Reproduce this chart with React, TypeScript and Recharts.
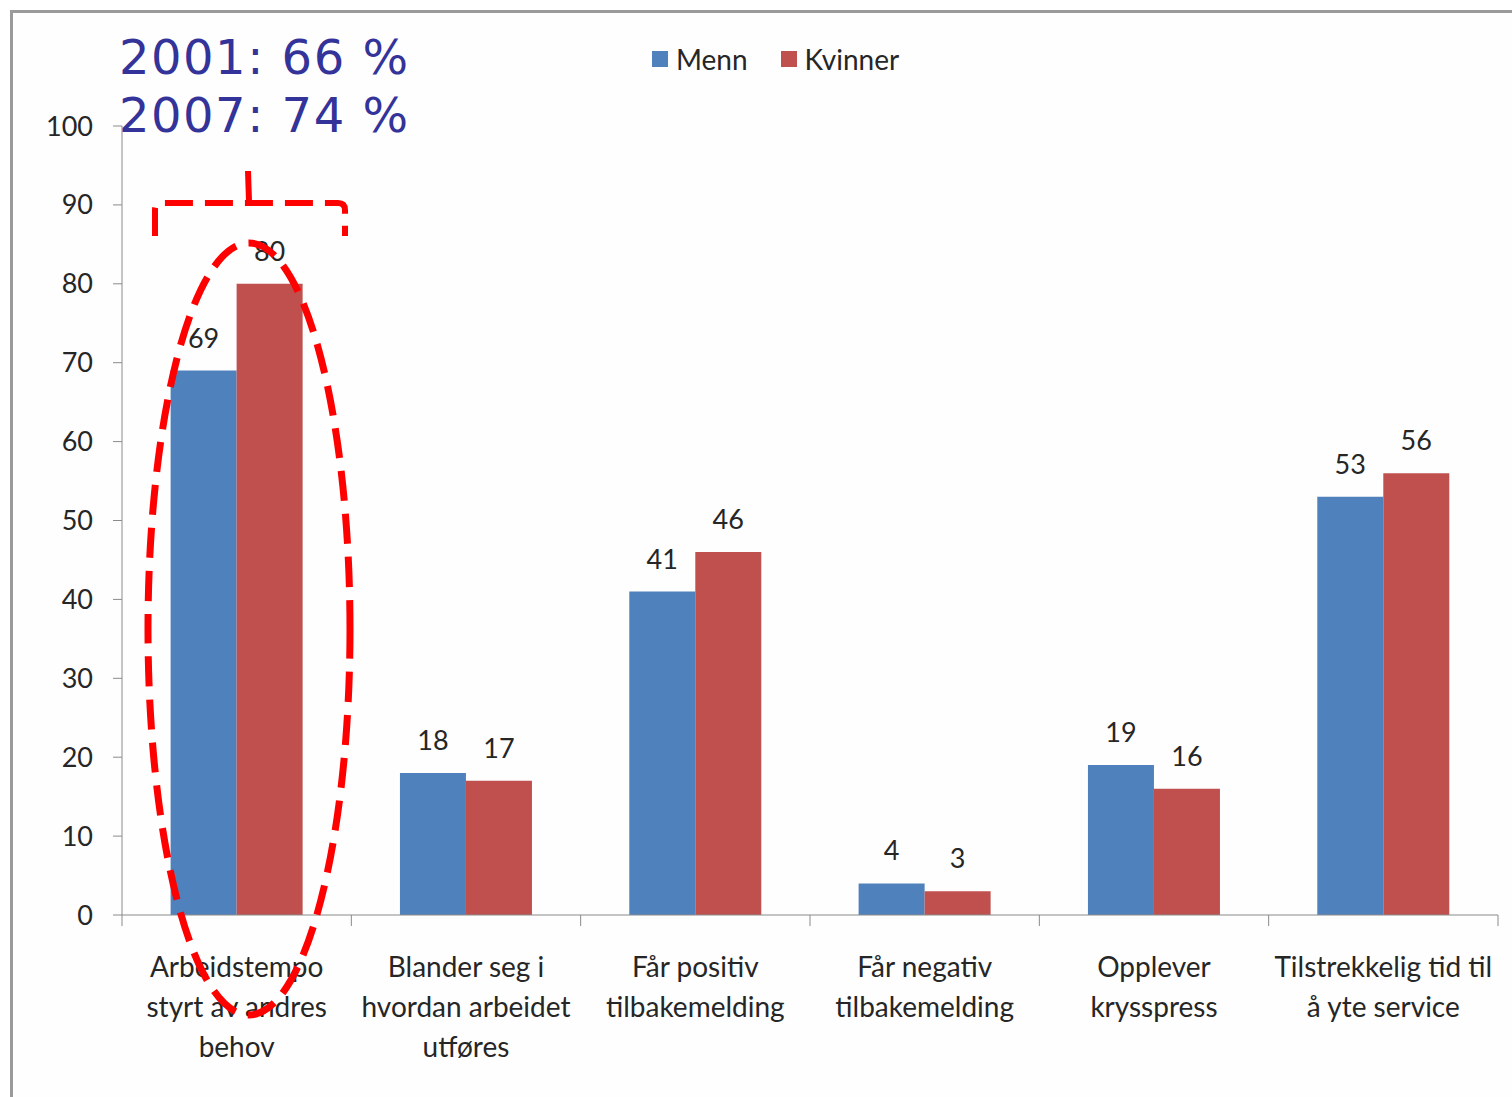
import { Bar, BarChart, LabelList, XAxis, YAxis } from "recharts";

const categories = [
  "Arbeidstempo\nstyrt av andres\nbehov",
  "Blander seg i\nhvordan arbeidet\nutføres",
  "Får positiv\ntilbakemelding",
  "Får negativ\ntilbakemelding",
  "Opplever\nkrysspress",
  "Tilstrekkelig tid til\nå yte service",
];
const menn = [69, 18, 41, 4, 19, 53];
const kvinner = [80, 17, 46, 3, 16, 56];
const yTicks = [0, 10, 20, 30, 40, 50, 60, 70, 80, 90, 100];
const seriesNames = ["Menn", "Kvinner"];
const seriesColors = ["#4F81BD", "#C0504D"];
const noteLines = ["2001: 66 %", "2007: 74 %"];

const CHART_W = 1512;
const CHART_H = 1097;
const MARGIN = { top: 126, right: 14, left: 0, bottom: 0 };
const YAXIS_W = 122;
const XAXIS_H = CHART_H - 915;
const BAND = (CHART_W - MARGIN.left - MARGIN.right - YAXIS_W) / categories.length;

const FONT = "Lato, 'Open Sans', sans-serif";
const AXIS_COLOR = "#8a8a8a";
const TEXT_COLOR = "#262626";

const data = categories.map((name, i) => ({
  name,
  Menn: menn[i],
  Kvinner: kvinner[i],
}));

function CategoryTick(props: any) {
  const { x, y, payload, index } = props;
  const lines = String(payload.value).split("\n");
  const left = x - BAND / 2;
  return (
    <g>
      <line x1={left} y1={y} x2={left} y2={y + 11} stroke={AXIS_COLOR} />
      {index === categories.length - 1 ? (
        <line x1={left + BAND} y1={y} x2={left + BAND} y2={y + 11} stroke={AXIS_COLOR} />
      ) : null}
      <text textAnchor="middle" fontSize={28} fill={TEXT_COLOR} fontFamily={FONT}>
        {lines.map((line, i) => (
          <tspan key={i} x={x} y={y + 62 + i * 40}>
            {line}
          </tspan>
        ))}
      </text>
    </g>
  );
}

function Legend() {
  return (
    <div
      style={{
        position: "absolute",
        left: 652,
        top: 42,
        display: "flex",
        alignItems: "center",
        fontFamily: FONT,
        fontSize: 28,
        color: TEXT_COLOR,
      }}
    >
      {seriesNames.map((name, i) => (
        <div key={name} style={{ display: "flex", alignItems: "center", marginRight: 33 }}>
          <span
            style={{
              width: 16,
              height: 16,
              background: seriesColors[i],
              marginRight: 8,
              display: "inline-block",
            }}
          />
          <span>{name}</span>
        </div>
      ))}
    </div>
  );
}

// red dashed highlight around the first category, with the year notes above it
function Highlight() {
  return (
    <svg
      width={CHART_W}
      height={CHART_H}
      style={{ position: "absolute", left: 0, top: 0, pointerEvents: "none" }}
    >
      {noteLines.map((line, i) => (
        <text
          key={line}
          x={119}
          y={74 + i * 58}
          fontSize={48}
          fill="#333399"
          letterSpacing={1.5}
          fontFamily="'DejaVu Sans', Verdana, sans-serif"
        >
          {line}
        </text>
      ))}
      <path
        d="M155,236 L155,210 Q155,203 162,203 L338,203 Q345,203 345,210 L345,236"
        fill="none"
        stroke="#ff0000"
        strokeWidth={6}
        strokeDasharray="28 12"
      />
      <path d="M248,171 L249,201" fill="none" stroke="#ff0000" strokeWidth={6} />
      <ellipse
        cx={249}
        cy={629}
        rx={101}
        ry={386}
        fill="none"
        stroke="#ff0000"
        strokeWidth={7}
        strokeDasharray="30 13"
      />
    </svg>
  );
}

export default function App() {
  return (
    <div
      style={{
        position: "fixed",
        left: 0,
        top: 0,
        width: CHART_W,
        height: CHART_H,
        overflow: "hidden",
        background: "#fff",
        fontFamily: FONT,
      }}
    >
      <div
        style={{
          position: "absolute",
          left: 10,
          top: 10,
          width: 1700,
          height: 1300,
          borderTop: "3px solid #9a9a9a",
          borderLeft: "3px solid #9a9a9a",
          background: "#fefefe",
        }}
      />
      <div style={{ position: "absolute", left: 0, top: 0 }}>
        <BarChart
          width={CHART_W}
          height={CHART_H}
          data={data}
          margin={MARGIN}
          barCategoryGap="21.2%"
          barGap={0}
        >
          <XAxis
            dataKey="name"
            height={XAXIS_H}
            interval={0}
            tickSize={0}
            tickMargin={0}
            tickLine={false}
            axisLine={{ stroke: AXIS_COLOR }}
            tick={<CategoryTick />}
          />
          <YAxis
            width={YAXIS_W}
            domain={[0, 100]}
            ticks={yTicks}
            interval={0}
            tickSize={9}
            tickMargin={20}
            axisLine={{ stroke: AXIS_COLOR }}
            tickLine={{ stroke: AXIS_COLOR }}
            tick={{ fontSize: 27, fill: TEXT_COLOR, fontFamily: FONT }}
          />
          {seriesNames.map((name, i) => (
            <Bar key={name} dataKey={name} fill={seriesColors[i]} isAnimationActive={false}>
              <LabelList
                dataKey={name}
                position="top"
                offset={23}
                fontSize={27}
                fill={TEXT_COLOR}
                fontFamily={FONT}
              />
            </Bar>
          ))}
        </BarChart>
      </div>
      <Legend />
      <Highlight />
    </div>
  );
}
